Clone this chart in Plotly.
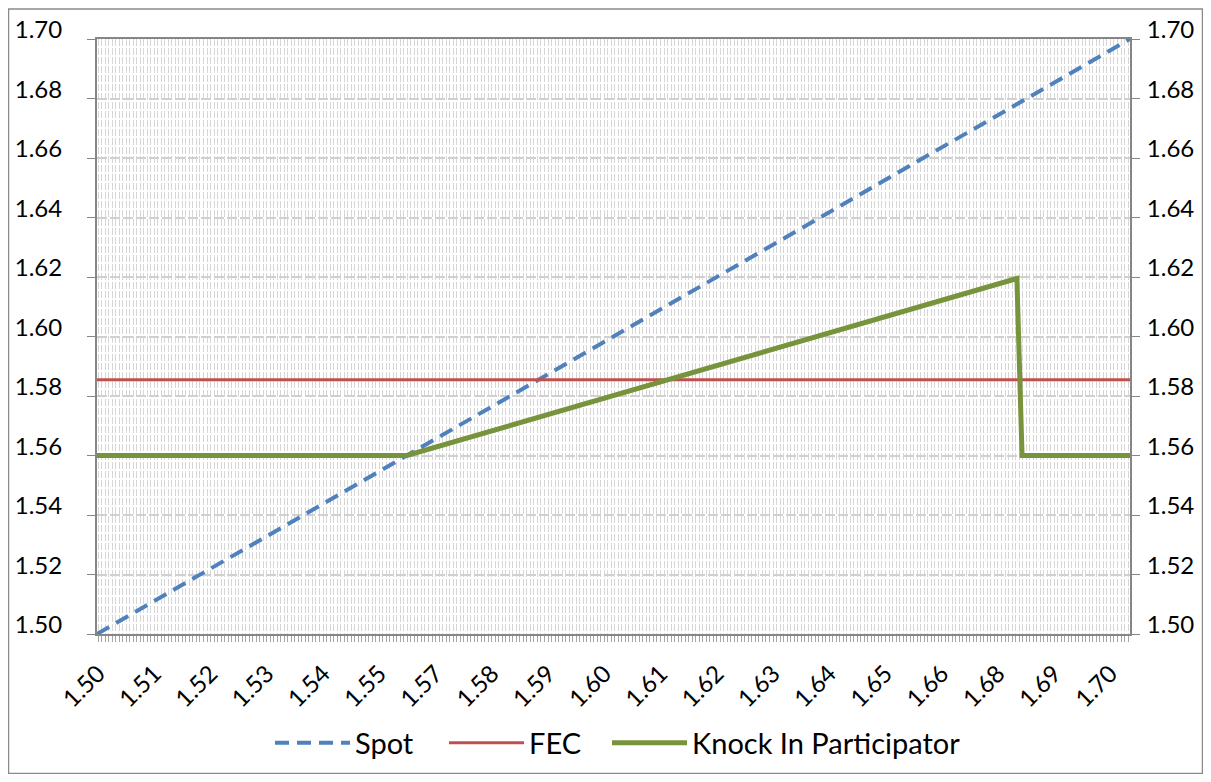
import plotly.graph_objects as go

# ---- data ----
spot_x = [1.50, 1.70]
spot_y = [1.50, 1.70]

fec_x = [1.50, 1.70]
fec_y = [1.5855, 1.5855]

kip_x = [1.50, 1.5600, 1.6781, 1.6791, 1.70]
kip_y = [1.56, 1.5600, 1.6195, 1.5600, 1.56]

x_label_start = 1.5002
x_label_step = 0.01089
x_tick_text = ["1.50", "1.51", "1.52", "1.53", "1.54", "1.55", "1.57", "1.58", "1.59", "1.60",
               "1.61", "1.62", "1.63", "1.64", "1.65", "1.66", "1.68", "1.69", "1.70"]
x_tick_vals = [x_label_start + k * x_label_step for k in range(len(x_tick_text))]
y_tick_vals = [1.50, 1.52, 1.54, 1.56, 1.58, 1.60, 1.62, 1.64, 1.66, 1.68, 1.70]
y_tick_text = ["%.2f" % v for v in y_tick_vals]

FONT = "Lato"
AX = "#868686"
GRID = "#d6d6d6"

W, H = 1195, 766
L, R, T, B = 89, 73, 31, 140
PW = W - L - R
PH = H - T - B
PAGE_OFF = 8  # body margin of the html page


def px_to_paper_x(page_x):
    return (page_x - PAGE_OFF - L) / PW


fig = go.Figure()
fig.add_trace(go.Scatter(x=spot_x, y=spot_y, mode="lines", name="Spot", legend="legend",
                         line=dict(color="#4F81BD", width=4, dash="14px,8px")))
fig.add_trace(go.Scatter(x=fec_x, y=fec_y, mode="lines", name="FEC", legend="legend2",
                         line=dict(color="#C0504D", width=3)))
fig.add_trace(go.Scatter(x=kip_x, y=kip_y, mode="lines", name="Knock In Participator",
                         legend="legend3", line=dict(color="#77933C", width=5)))
# invisible trace to carry the right axis
fig.add_trace(go.Scatter(x=fec_x, y=fec_y, yaxis="y2", mode="lines", showlegend=False,
                         hoverinfo="skip", line=dict(color="rgba(0,0,0,0)", width=0)))

leg_common = dict(orientation="h", xanchor="left", y=-0.183, yanchor="middle",
                  font=dict(family=FONT, size=29), itemwidth=75, bgcolor="rgba(0,0,0,0)")

fig.update_layout(
    width=W, height=H,
    margin=dict(l=L, r=R, t=T, b=B, autoexpand=False),
    paper_bgcolor="white", plot_bgcolor="white",
    font=dict(family=FONT, size=22, color="black"),
    showlegend=True,
    legend=dict(x=px_to_paper_x(270), **leg_common),
    legend2=dict(x=px_to_paper_x(444), **leg_common),
    legend3=dict(x=px_to_paper_x(607), **leg_common),
    xaxis=dict(
        range=[1.50, 1.70], tickmode="array", tickvals=x_tick_vals, ticktext=x_tick_text,
        tickangle=-45, tickfont=dict(family=FONT, size=24), automargin=False,
        showline=True, linecolor=AX, linewidth=2, mirror=True,
        ticks="outside", ticklen=6, tickcolor="#a6a6a6", ticklabelstandoff=8,
        showgrid=True, gridcolor=GRID, gridwidth=1, griddash="7px,2px", zeroline=False,
        minor=dict(tick0=x_label_start, dtick=x_label_step / 16, showgrid=True,
                   gridcolor=GRID, gridwidth=1, griddash="7px,2px",
                   ticks="outside", ticklen=6, tickcolor="#a6a6a6"),
    ),
    yaxis=dict(
        range=[1.50, 1.70], tickmode="array", tickvals=y_tick_vals, ticktext=y_tick_text,
        showline=True, linecolor=AX, linewidth=2, automargin=False,
        ticks="outside", ticklen=8, tickcolor=AX, ticklabelstandoff=20,
        ticklabelshift=-9,
        showgrid=True, gridcolor="#d0d0d0", gridwidth=1.5, griddash="10px,3px",
        zeroline=False, tickfont=dict(family=FONT, size=24),
    ),
    yaxis2=dict(
        range=[1.50, 1.70], tickmode="array", tickvals=y_tick_vals, ticktext=y_tick_text,
        overlaying="y", side="right", anchor="x", automargin=False,
        showline=True, linecolor=AX, linewidth=2,
        ticks="outside", ticklen=8, tickcolor=AX, ticklabelstandoff=2,
        ticklabelshift=-9,
        showgrid=False, zeroline=False, tickfont=dict(family=FONT, size=24),
    ),
)

# outer chart border
fig.add_shape(type="rect", xref="paper", yref="paper",
              x0=(0.5 - L) / PW, x1=(W - 0.5 - L) / PW,
              y0=(T + PH - (H - 0.5)) / PH, y1=(T + PH - 1) / PH,
              line=dict(color="#8a8a8a", width=1.5), fillcolor="rgba(0,0,0,0)", layer="below")

fig.write_html("out.html")
